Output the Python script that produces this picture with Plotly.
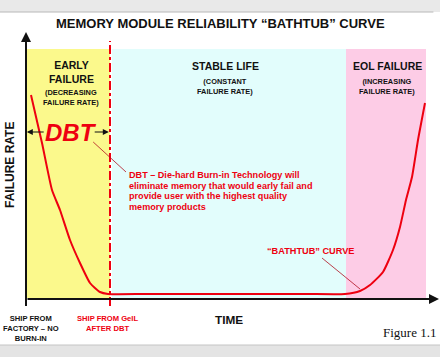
import plotly.graph_objects as go

# ---- data (time units 0-100, failure-rate units 0-100) ----
curve_time = [1.25, 4, 6.5, 8.5, 11, 13.5, 16, 18.5, 20.5, 30, 50, 70, 79.75,
              83.5, 86, 89.25, 91.75, 93.5, 95, 96.5, 98, 99.75]
curve_rate = [81.6, 62.4, 43.6, 35.6, 23.6, 14.4, 6.4, 2.8, 2.0, 2.0, 2.0, 2.0, 2.0,
              3.2, 5.6, 10.8, 19.6, 28.8, 39.6, 48.8, 63.6, 78.4]

phase_names = ["EARLY<br>FAILURE", "STABLE LIFE", "EOL FAILURE"]
phase_notes = ["(DECREASING<br>FAILURE RATE)", "(CONSTANT<br>FAILURE RATE)",
               "(INCREASING<br>FAILURE RATE)"]
phase_start = [0.25, 21.5, 80.0]
phase_end = [21.0, 80.0, 100.0]
phase_colors = ["#fbf98c", "#e2fdfc", "#fdcce6"]

dbt_lines = ["DBT – Die-hard Burn-in Technology will",
             "eliminate memory that would early fail and",
             "provide user with the highest quality",
             "memory products"]

dbt_time = 21.0      # ship-from-GeIL point (after DBT)
phase_top = 100.0

FONT = "Liberation Sans"
RED = "#ee0010"

fig = go.Figure()

# phase backgrounds
for s, e, c in zip(phase_start, phase_end, phase_colors):
    fig.add_shape(type="rect", x0=s, x1=e, y0=0.4, y1=phase_top,
                  fillcolor=c, line_width=0, layer="below")

# top and bottom page bands
fig.add_shape(type="rect", xref="paper", yref="paper", x0=0, x1=1, y0=1 - 12/357, y1=1,
              fillcolor="#e9e9e9", line_width=0, layer="below")
fig.add_shape(type="line", xref="paper", yref="paper", x0=0, x1=0.985, y0=1 - 12/357, y1=1 - 12/357,
              line=dict(color="#b8b8b8", width=1))
fig.add_shape(type="rect", xref="paper", yref="paper", x0=0, x1=1, y0=0, y1=12/357,
              fillcolor="#e4e4e4", line_width=0, layer="below")
fig.add_shape(type="line", xref="paper", yref="paper", x0=0, x1=1, y0=12/357, y1=12/357,
              line=dict(color="#c4c4c4", width=1))

# DBT dash-dot line
fig.add_shape(type="line", x0=dbt_time, x1=dbt_time, y0=-2.8, y1=103.2,
              line=dict(color=RED, width=2, dash="dashdot"))

# bathtub curve
fig.add_trace(go.Scatter(x=curve_time, y=curve_rate, mode="lines",
                         line=dict(color=RED, width=2, shape="spline", smoothing=0.5),
                         hoverinfo="skip", showlegend=False))

# axes with arrows
fig.add_shape(type="line", x0=0, x1=0, y0=-2.8, y1=100, line=dict(color="#111", width=2))
fig.add_annotation(x=0, y=106.8, ax=0, ay=98, axref="x", ayref="y", showarrow=True,
                   arrowhead=2, arrowsize=1, arrowwidth=2, arrowcolor="#111", text="")
fig.add_annotation(x=103.25, y=0, ax=0, ay=0, axref="x", ayref="y", showarrow=True,
                   arrowhead=2, arrowsize=1, arrowwidth=2, arrowcolor="#111", text="")

# DBT width arrows
fig.add_annotation(x=0.2, y=66.8, ax=4.8, ay=66.8, axref="x", ayref="y", showarrow=True,
                   arrowhead=2, arrowsize=1, arrowwidth=1.2, arrowcolor="#111", text="")
fig.add_annotation(x=20.7, y=66.8, ax=16.8, ay=66.8, axref="x", ayref="y", showarrow=True,
                   arrowhead=2, arrowsize=1, arrowwidth=1.2, arrowcolor="#111", text="")

# leader lines
fig.add_shape(type="line", x0=16.8, y0=62.8, x1=25.0, y1=50.8,
              line=dict(color="#b01020", width=0.8))
fig.add_shape(type="line", x0=74.0, y0=16.4, x1=83.5, y1=4.0,
              line=dict(color="#b01020", width=0.8))

def txt(x, y, t, size, color="#111", bold=True, family=FONT, **kw):
    fig.add_annotation(x=x, y=y, text=(f"<b>{t}</b>" if bold else t), showarrow=False,
                       font=dict(size=size, color=color, family=family), **kw)

# title
txt(48.5, 110.4, "MEMORY MODULE RELIABILITY “BATHTUB” CURVE", 13)

# phase labels
name_x = [11.3, 49.8, 90.3]
for i, (nm, nt) in enumerate(zip(phase_names, phase_notes)):
    if i == 0:
        txt(name_x[i], 90.8, nm, 10.5, yanchor="middle")
        txt(name_x[i], 80.6, nt, 7.4, yanchor="middle")
    else:
        txt(name_x[i], 93.4, nm, 10.5, yanchor="middle")
        txt(name_x[i], 85.2, nt, 7.4, yanchor="middle")

# DBT logo
txt(11.3, 66.6, "<i>DBT</i>", 24, color=RED, family="Liberation Sans Narrow, Liberation Sans")

# DBT explanation, one line per annotation
for k, line in enumerate(dbt_lines):
    txt(25.2, 49.6 - 4.25 * k, line, 9.1, color=RED, xanchor="left", yanchor="middle")

# bathtub label
txt(71.0, 19.2, "“BATHTUB” CURVE", 9.2, color=RED)

# axis titles
txt(-4.0, 53.6, "FAILURE RATE", 12, textangle=-90)
txt(50.8, -8.4, "TIME", 11.8)

# bottom labels
txt(1.2, -11.8, "SHIP FROM<br>FACTORY – NO<br>BURN-IN", 7.6)
txt(20.3, -9.8, "SHIP FROM GeIL<br>AFTER DBT", 7.6, color=RED)
txt(103.0, -13.2, "Figure 1.1", 13, bold=False, family="Liberation Serif", xanchor="right")

fig.update_layout(
    width=440, height=357, margin=dict(l=0, r=0, t=0, b=0),
    paper_bgcolor="white", plot_bgcolor="white",
    xaxis=dict(range=[-6.5, 103.5], visible=False, fixedrange=True),
    yaxis=dict(range=[-23.2, 119.6], visible=False, fixedrange=True),
    showlegend=False,
)

fig.write_html("out.html", config={"displayModeBar": False},
               post_script="document.body.style.margin='0';document.body.style.overflow='hidden';")
